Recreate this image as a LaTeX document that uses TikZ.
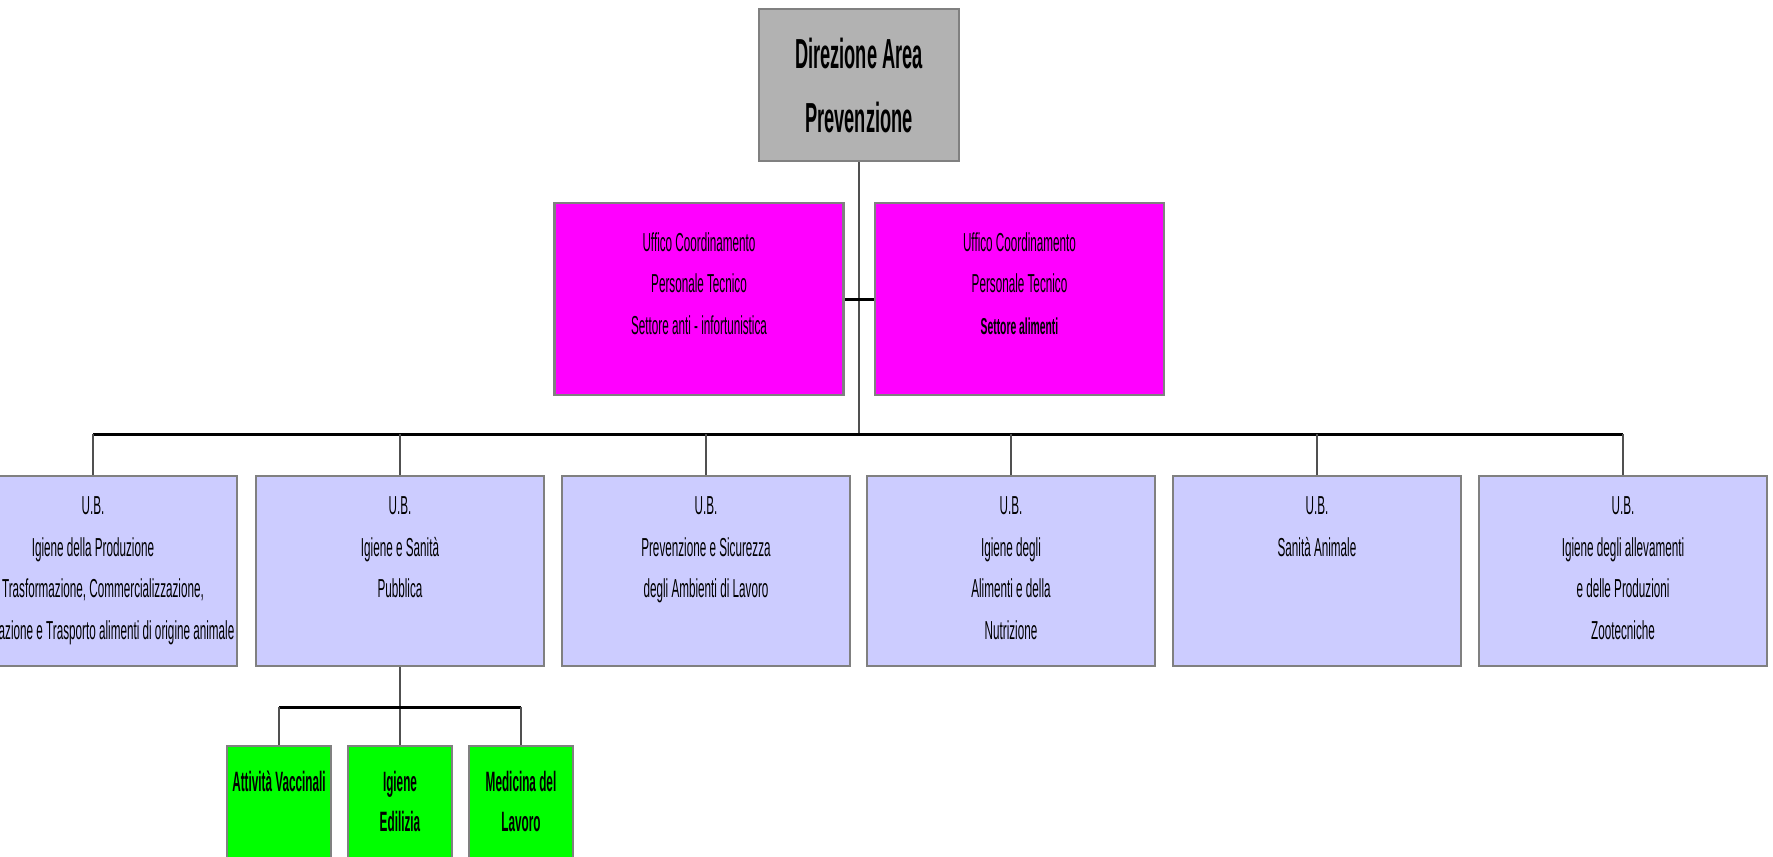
\documentclass[tikz,border=0pt]{standalone}
\usepackage{fontspec}
\setmainfont{Liberation Sans}[FakeStretch=0.45]
\newfontfamily\topfont{Liberation Sans}[FakeStretch=0.435]
\newfontfamily\grnfont{Liberation Sans}[FakeStretch=0.42]
\usetikzlibrary{backgrounds}
\definecolor{boxgray}{RGB}{128,128,128}
\definecolor{topgray}{RGB}{178,178,178}
\definecolor{mag}{RGB}{255,0,255}
\definecolor{lav}{RGB}{204,204,255}
\definecolor{grn}{RGB}{0,255,0}
\definecolor{linkgray}{RGB}{80,80,80}
\begin{document}
\begin{tikzpicture}[x=1pt,y=-1pt,
  boxbase/.style={draw=boxgray, line width=2.5pt, inner sep=0pt, outer sep=0pt},
  topbox/.style={boxbase, fill=topgray, minimum width=200pt, minimum height=152pt, align=center, font=\topfont\bfseries\fontsize{42}{64}\selectfont},
  mbox/.style={boxbase, fill=mag, minimum width=289pt, minimum height=192pt},
  ubox/.style={boxbase, fill=lav, minimum width=288pt, minimum height=190pt},
  gbox/.style={boxbase, fill=grn, minimum width=104pt, minimum height=130pt},
  txt/.style={anchor=north, inner sep=0pt, align=center, font=\fontsize{26}{41.5}\selectfont},
  gtxt/.style={anchor=north, inner sep=0pt, align=center, font=\grnfont\bfseries\fontsize{28}{40}\selectfont},
  busline/.style={line width=3pt, black},
  linkline/.style={line width=2pt, linkgray}]
\useasboundingbox (0,0) rectangle (1773,857);
% boxes
\node[topbox] (top) at (859,85) {Direzione Area\\Prevenzione};
\node[mbox] (mL) at (699,299) {};
\node[mbox] (mR) at (1019.5,299) {};
\node[ubox] (u1) at (93,571) {};
\node[ubox] (u2) at (400,571) {};
\node[ubox] (u3) at (706,571) {};
\node[ubox] (u4) at (1011,571) {};
\node[ubox] (u5) at (1317,571) {};
\node[ubox] (u6) at (1623,571) {};
\node[gbox] (g1) at (279,811) {};
\node[gbox] (g2) at (400,811) {};
\node[gbox] (g3) at (521,811) {};
% texts
\node[txt] (tmL) at ([yshift=-29pt]mL.north) {Uffico Coordinamento\\Personale Tecnico\\Settore anti - infortunistica};
\node[txt] (tmR) at ([yshift=-29pt]mR.north) {Uffico Coordinamento\\Personale Tecnico\\{\bfseries\fontsize{23}{40}\selectfont Settore alimenti}};
\node[txt] (tu1) at ([yshift=-20.5pt]u1.north) {U.B.\\Igiene della Produzione\\\hspace*{20pt}Trasformazione, Commercializzazione,\\\hspace*{12pt}Preparazione e Trasporto alimenti di origine animale};
\node[txt] (tu2) at ([yshift=-20.5pt]u2.north) {U.B.\\Igiene e Sanità\\Pubblica};
\node[txt] (tu3) at ([yshift=-20.5pt]u3.north) {U.B.\\Prevenzione e Sicurezza\\degli Ambienti di Lavoro};
\node[txt] (tu4) at ([yshift=-20.5pt]u4.north) {U.B.\\Igiene degli\\Alimenti e della\\Nutrizione};
\node[txt] (tu5) at ([yshift=-20.5pt]u5.north) {U.B.\\Sanità Animale};
\node[txt] (tu6) at ([yshift=-20.5pt]u6.north) {U.B.\\Igiene degli allevamenti\\e delle Produzioni\\Zootecniche};
\node[gtxt] (tg1) at ([yshift=-25pt]g1.north) {Attività Vaccinali};
\node[gtxt] (tg2) at ([yshift=-25pt]g2.north) {Igiene\\Edilizia};
\node[gtxt] (tg3) at ([yshift=-25pt]g3.north) {Medicina del\\Lavoro};
% connectors
\coordinate (hub) at (859,434);
\coordinate (sub) at (400,707);
\begin{scope}[on background layer]
\fill[white] (0,0) rectangle (1773,857);
\draw[linkline] (top.south) -- (hub);
\draw[busline] (mL.east) -- (mR.west);
\draw[busline] (u1.north |- hub) -- (u6.north |- hub);
\foreach \u in {u1,u2,u3,u4,u5,u6}
  \draw[linkline] (\u.north |- hub) -- (\u.north);
\draw[linkline] (u2.south) -- (g2.north);
\draw[busline] (g1.north |- sub) -- (g3.north |- sub);
\draw[linkline] (g1.north |- sub) -- (g1.north);
\draw[linkline] (g3.north |- sub) -- (g3.north);
\end{scope}
\end{tikzpicture}
\end{document}
